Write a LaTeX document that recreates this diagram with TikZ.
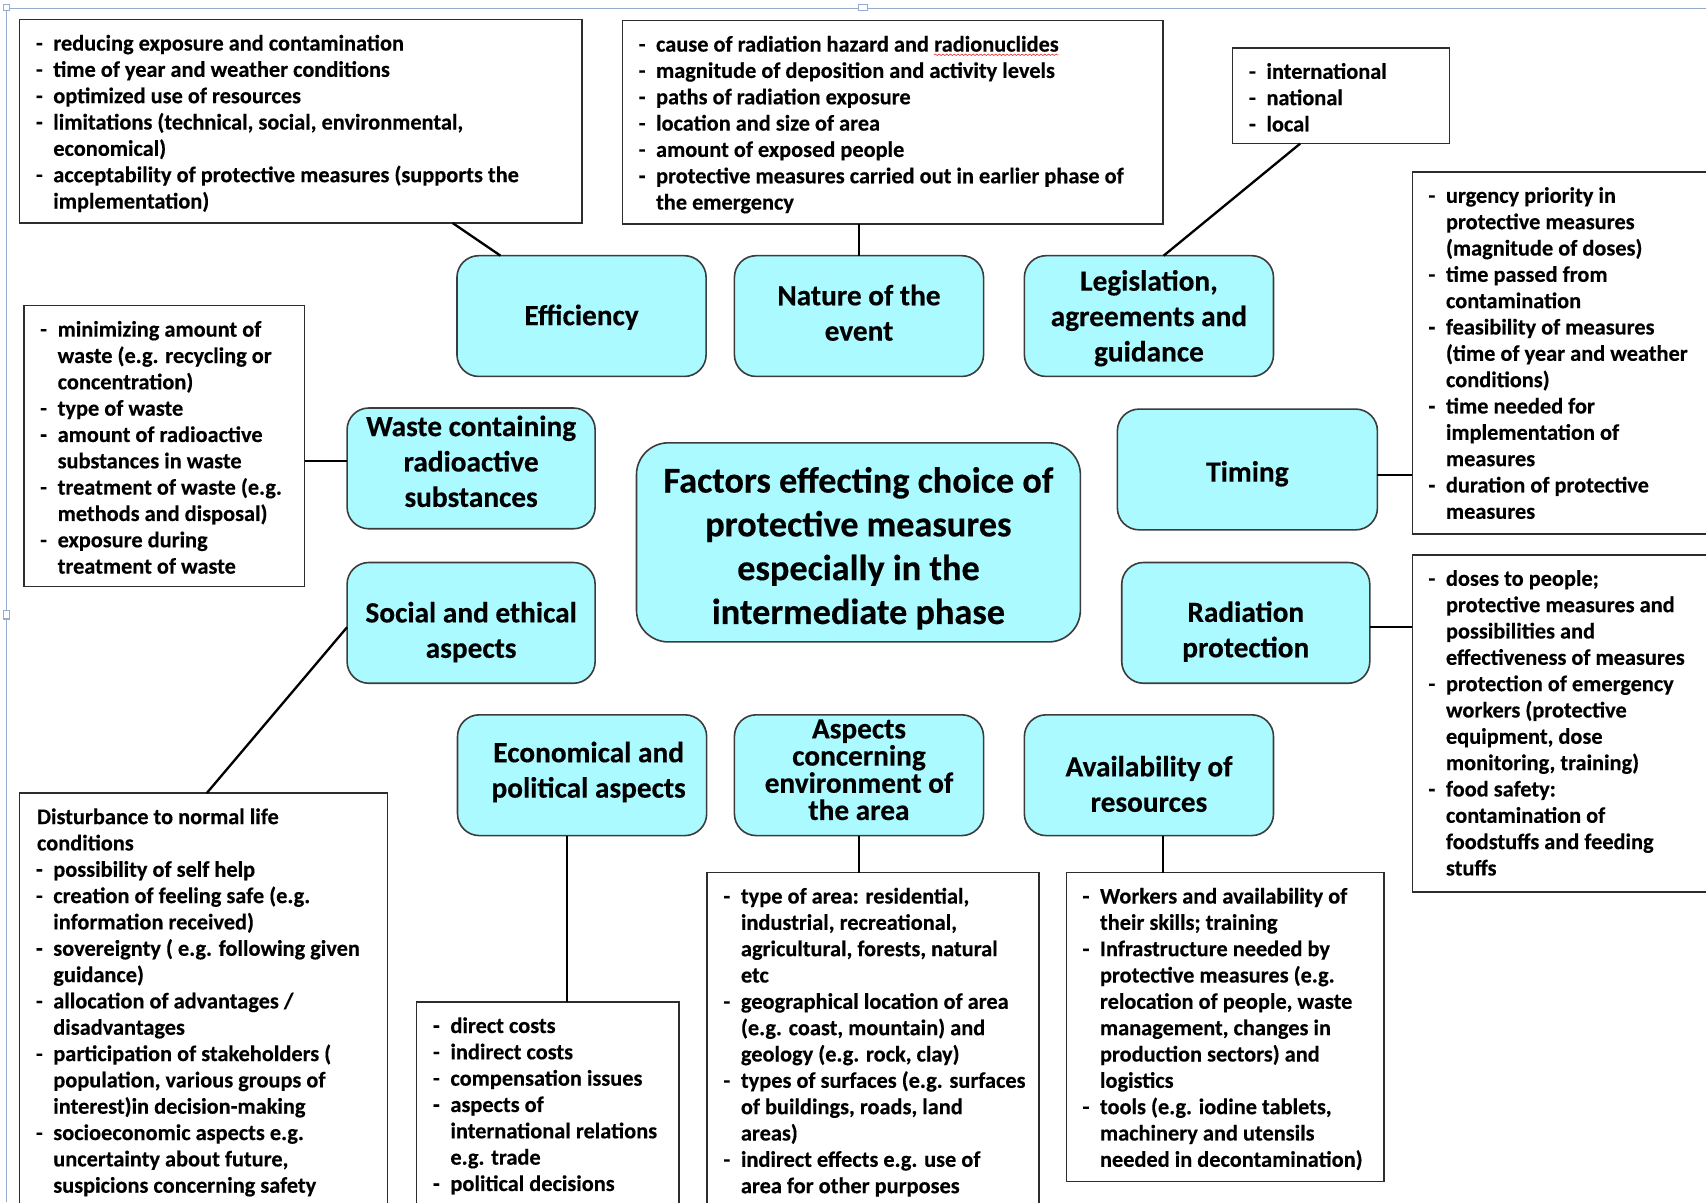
\documentclass[tikz,border=0pt]{standalone}
\usepackage{fontspec}
\setmainfont{Carlito}[BoldFeatures={FakeBold=0.35}]
\usetikzlibrary{calc,decorations.pathmorphing}

% one drawing unit = 0.75pt
\newlength\px
\setlength\px{0.75pt}

\definecolor{factorfill}{RGB}{170,250,255}
\definecolor{factoredge}{RGB}{60,60,60}
\definecolor{noteedge}{RGB}{45,45,45}
\definecolor{canvasedge}{RGB}{150,172,204}
\definecolor{spellred}{RGB}{230,40,40}

% text of a note box: width, height (in px), lines
\newcommand\notetext[3]{\parbox[c][#2\px][t]{#1\px}{\fontsize{15.4}{18.15}\selectfont\bfseries\vspace*{11.5\px}#3}}
\newcommand\noteitem[1]{\noindent\strut\hspace*{15\px}\makebox[16\px][l]{-}\mbox{#1}\par}
\newcommand\notecont[1]{\noindent\strut\hspace*{31\px}\mbox{#1}\par}
\newcommand\notehead[1]{\noindent\strut\hspace*{16\px}\mbox{#1}\par}
% word marked by the spell checker
\newcommand\spellwave[1]{\tikz[baseline=(sw.base)]{\node[inner sep=0pt,outer sep=0pt] (sw) {#1};
  \draw[spellred,line width=0.4pt,decorate,decoration={snake,amplitude=0.5pt,segment length=2.6pt}]
    ([yshift=-2.2pt]sw.base west) -- ([yshift=-2.2pt]sw.base east);}}

\begin{document}
\begin{tikzpicture}[x=0.75pt,y=-0.75pt,
  note/.style={draw=noteedge,line width=1pt,fill=white,inner sep=0pt,outer sep=0pt,anchor=north west},
  factor/.style={draw=factoredge,line width=1.1pt,fill=factorfill,rounded corners=15pt,
    inner sep=0pt,outer sep=0pt,minimum width=229\px,minimum height=111\px},
  factortext/.style={inner sep=0pt,align=center,font=\fontsize{20.2}{24.4}\selectfont\bfseries},
  link/.style={draw=black,line width=1.6pt},
  frameline/.style={draw=canvasedge,line width=0.8pt}]

\useasboundingbox (0,0) rectangle (1568,1105);
\fill[white] (0,0) rectangle (1568,1105);
\clip (0,0) rectangle (1568,1105);

% drawing canvas edge with its handles
\draw[frameline] (6,8) -- (1568,8);
\draw[frameline] (6,8) -- (6,1105);
\draw[frameline,fill=white] (789,4) rectangle (797,10);
\draw[frameline,fill=white] (3,561) rectangle (9,569);
\draw[frameline,fill=white] (3,4) rectangle (9,10);

% factor boxes
\node[factor] (eff) at (534.5,290.5) {};
\node[factor] (nat) at (789.5,290.5) {};
\node[factor] (leg) at (1056,290.5) {};
\node[factor,minimum width=239\px] (timing) at (1146.5,431.5) {};
\node[factor,minimum width=228\px] (rad) at (1145,572.5) {};
\node[factor,minimum width=228\px] (waste) at (433,430.5) {};
\node[factor,minimum width=228\px] (social) at (433,572.5) {};
\node[factor] (econ) at (535,712.5) {};
\node[factor] (env) at (789.5,712.5) {};
\node[factor] (avail) at (1056,712.5) {};
\node[factor,minimum width=408\px,minimum height=183\px,rounded corners=22pt] (core) at (789,498.5) {};

% their texts
\node[factortext] (efftext) at ([yshift=-1\px]eff) {Efficiency};
\node[factortext] (nattext) at ([yshift=3\px]nat) {Nature of the\\event};
\node[factortext] (legtext) at ([yshift=-2\px]leg) {Legislation,\\agreements and\\guidance};
\node[factortext] (timingtext) at ([yshift=-4\px]timing) {Timing};
\node[factortext] (radtext) at ([yshift=-8\px]rad) {Radiation\\protection};
\node[factortext] (wastetext) at ([yshift=6.5\px]waste) {Waste containing\\radioactive\\substances};
\node[factortext] (socialtext) at ([yshift=-8.5\px]social) {Social and ethical\\aspects};
\node[factortext] (econtext) at ([xshift=6\px,yshift=3\px]econ) {Economical and\\political aspects};
\node[factortext,font=\fontsize{20.2}{18.75}\selectfont\bfseries] (envtext) at ([yshift=5\px]env)
  {Aspects\\concerning\\environment of\\the area};
\node[factortext] (availtext) at ([yshift=-8\px]avail) {Availability of\\resources};
\node[factortext,font=\fontsize{25}{30.2}\selectfont\bfseries] (coretext) at ([yshift=-5.5\px]core)
  {Factors effecting choice of\\protective measures\\especially in the\\intermediate phase};

% note boxes
\node[note] (t1) at (18,18) {\notetext{517}{187}{%
  \noteitem{reducing exposure and contamination}
  \noteitem{time of year and weather conditions}
  \noteitem{optimized use of resources}
  \noteitem{limitations (technical, social, environmental,}
  \notecont{economical)}
  \noteitem{acceptability of protective measures (supports the}
  \notecont{implementation)}}};

\node[note] (t2) at (572,19) {\notetext{497}{187}{%
  \noteitem{cause of radiation hazard and \spellwave{radionuclides}}
  \noteitem{magnitude of deposition and activity levels}
  \noteitem{paths of radiation exposure}
  \noteitem{location and size of area}
  \noteitem{amount of exposed people}
  \noteitem{protective measures carried out in earlier phase of}
  \notecont{the emergency}}};

\node[note] (t3) at (1133,44) {\notetext{199}{88}{%
  \noteitem{international}
  \noteitem{national}
  \noteitem{local}}};

\node[note] (t4) at (1298,158) {\notetext{330}{333}{%
  \noteitem{urgency priority in}
  \notecont{protective measures}
  \notecont{(magnitude of doses)}
  \noteitem{time passed from}
  \notecont{contamination}
  \noteitem{feasibility of measures}
  \notecont{(time of year and weather}
  \notecont{conditions)}
  \noteitem{time needed for}
  \notecont{implementation of}
  \notecont{measures}
  \noteitem{duration of protective}
  \notecont{measures}}};

\node[note] (t5) at (1298,510) {\notetext{330}{310}{%
  \noteitem{doses to people;}
  \notecont{protective measures and}
  \notecont{possibilities and}
  \notecont{effectiveness of measures}
  \noteitem{protection of emergency}
  \notecont{workers (protective}
  \notecont{equipment, dose}
  \notecont{monitoring, training)}
  \noteitem{food safety:}
  \notecont{contamination of}
  \notecont{foodstuffs and feeding}
  \notecont{stuffs}}};

\node[note] (t6) at (22,281) {\notetext{258}{258}{%
  \noteitem{minimizing amount of}
  \notecont{waste (e.g. recycling or}
  \notecont{concentration)}
  \noteitem{type of waste}
  \noteitem{amount of radioactive}
  \notecont{substances in waste}
  \noteitem{treatment of waste (e.g.}
  \notecont{methods and disposal)}
  \noteitem{exposure during}
  \notecont{treatment of waste}}};

\node[note] (t7) at (18,729) {\notetext{338}{420}{%
  \notehead{Disturbance to normal life}
  \notehead{conditions}
  \noteitem{possibility of self help}
  \noteitem{creation of feeling safe (e.g.}
  \notecont{information received)}
  \noteitem{sovereignty ( e.g. following given}
  \notecont{guidance)}
  \noteitem{allocation of advantages /}
  \notecont{disadvantages}
  \noteitem{participation of stakeholders (}
  \notecont{population, various groups of}
  \notecont{interest)in decision-making}
  \noteitem{socioeconomic aspects e.g.}
  \notecont{uncertainty about future,}
  \notecont{suspicions concerning safety}}};

\node[note] (t8) at (383,921) {\notetext{241}{250}{%
  \noteitem{direct costs}
  \noteitem{indirect costs}
  \noteitem{compensation issues}
  \noteitem{aspects of}
  \notecont{international relations}
  \notecont{e.g. trade}
  \noteitem{political decisions}}};

\node[note] (t9) at (650,802) {\notetext{305}{350}{%
  \noteitem{type of area: residential,}
  \notecont{industrial, recreational,}
  \notecont{agricultural, forests, natural}
  \notecont{etc}
  \noteitem{geographical location of area}
  \notecont{(e.g. coast, mountain) and}
  \notecont{geology (e.g. rock, clay)}
  \noteitem{types of surfaces (e.g. surfaces}
  \notecont{of buildings, roads, land}
  \notecont{areas)}
  \noteitem{indirect effects e.g. use of}
  \notecont{area for other purposes}}};

\node[note] (t10) at (980,802) {\notetext{292}{284}{%
  \noteitem{Workers and availability of}
  \notecont{their skills; training}
  \noteitem{Infrastructure needed by}
  \notecont{protective measures (e.g.}
  \notecont{relocation of people, waste}
  \notecont{management, changes in}
  \notecont{production sectors) and}
  \notecont{logistics}
  \noteitem{tools (e.g. iodine tablets,}
  \notecont{machinery and utensils}
  \notecont{needed in decontamination)}}};

% connectors
\draw[link] ([xshift=398\px]t1.south west) -- ([xshift=40\px]eff.north west);
\draw[link] (nat.north) -- (nat.north |- t2.south);
\draw[link] ([xshift=62\px]t3.south west) -- ([xshift=128\px]leg.north west);
\draw[link] ([yshift=-5\px]timing.east) -- ([yshift=-5\px]timing.east -| t4.west);
\draw[link] ([yshift=-4\px]rad.east) -- ([yshift=-4\px]rad.east -| t5.west);
\draw[link] ([yshift=6.5\px]waste.west) -- ([yshift=6.5\px]waste.west -| t6.east);
\draw[link] ([yshift=-4\px]social.west) -- ([xshift=172\px]t7.north west);
\draw[link] ([xshift=-14\px]econ.south) -- ([xshift=-14\px]econ.south |- t8.north);
\draw[link] (env.south) -- (env.south |- t9.north);
\draw[link] ([xshift=13\px]avail.south) -- ([xshift=13\px]avail.south |- t10.north);
\end{tikzpicture}
\end{document}
